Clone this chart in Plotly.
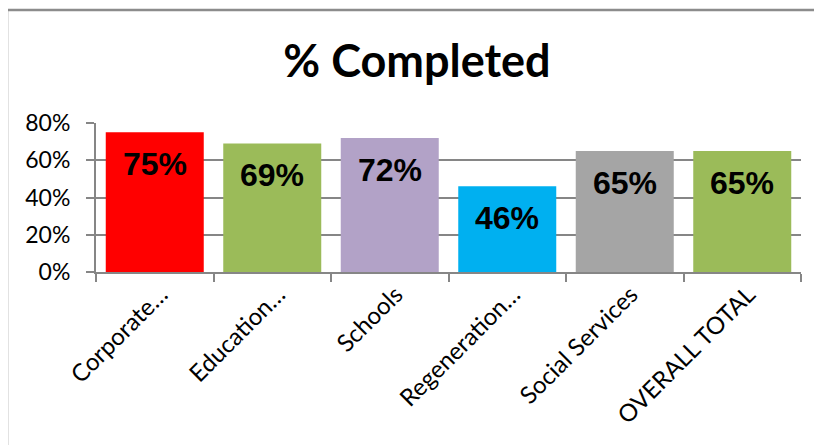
import plotly.graph_objects as go

categories = ["Corporate…", "Education…", "Schools", "Regeneration…", "Social Services", "OVERALL TOTAL"]
values = [0.75, 0.69, 0.72, 0.46, 0.65, 0.65]
labels = ["75%", "69%", "72%", "46%", "65%", "65%"]
colors = ["#FF0000", "#9BBB59", "#B2A2C7", "#00B0F0", "#A5A5A5", "#9BBB59"]
ytick_vals = [0, 0.2, 0.4, 0.6, 0.8]
ytick_text = ["0%", "20%", "40%", "60%", "80%"]

# the page body adds an 8px offset; the figure is sized to fill the rest of the window
OFF = 8
W, H = 822 - OFF, 445 - OFF
ml, mr, mt, mb = 96 - OFF, 21, 123 - OFF, 173
pw, ph = W - ml - mr, H - mt - mb

fig = go.Figure()
fig.add_trace(go.Bar(x=categories, y=values, marker=dict(color=colors, line=dict(width=0)),
                     hoverinfo="skip"))

for c, v, t in zip(categories, values, labels):
    fig.add_annotation(x=c, y=v, text="<b>" + t + "</b>", showarrow=False,
                       yanchor="middle", yshift=-32,
                       font=dict(family="Liberation Sans, Arial", size=32, color="#000000"))

# chart area border (extends past right/bottom edges of the frame)
bx0, by0 = 7 - OFF, 10 - OFF
fig.add_shape(type="rect", xref="paper", yref="paper",
              x0=(bx0 - ml) / pw, x1=(W + 20 - ml) / pw,
              y0=-(H + 20 - (H - mb)) / ph, y1=(H - mb - by0) / ph,
              line=dict(color="#8C8C8C", width=2.5), fillcolor="rgba(0,0,0,0)", layer="below")

fig.update_layout(
    width=W, height=H,
    margin=dict(l=ml, r=mr, t=mt, b=mb, pad=0, autoexpand=False),
    paper_bgcolor="white", plot_bgcolor="white",
    bargap=0.166,
    showlegend=False,
    title=dict(text="<b>% Completed</b>", x=(417 - OFF) / W, xanchor="center", xref="container",
               y=1 - 53 / H, yanchor="middle", yref="container",
               font=dict(family="Lato, Open Sans, sans-serif", size=45, color="#000000")),
    xaxis=dict(type="category", tickangle=-45, tickson="boundaries", automargin=False,
               ticks="outside", ticklen=8, tickcolor="#868686", tickwidth=2,
               showline=True, linecolor="#868686", linewidth=2,
               showgrid=False, mirror=False,
               tickfont=dict(family="Lato, sans-serif", size=24, color="#000000"),
               ticklabelshift=6, ticklabelstandoff=-3),
    yaxis=dict(range=[0, 0.8], tickvals=ytick_vals, ticktext=ytick_text, automargin=False,
               ticks="outside", ticklen=8, tickcolor="#868686", tickwidth=2,
               showline=True, linecolor="#868686", linewidth=2,
               showgrid=True, gridcolor="#868686", gridwidth=2,
               zeroline=False,
               tickfont=dict(family="Lato, sans-serif", size=23, color="#000000"),
               ticklabelstandoff=11),
)

fig.write_html("out.html")
